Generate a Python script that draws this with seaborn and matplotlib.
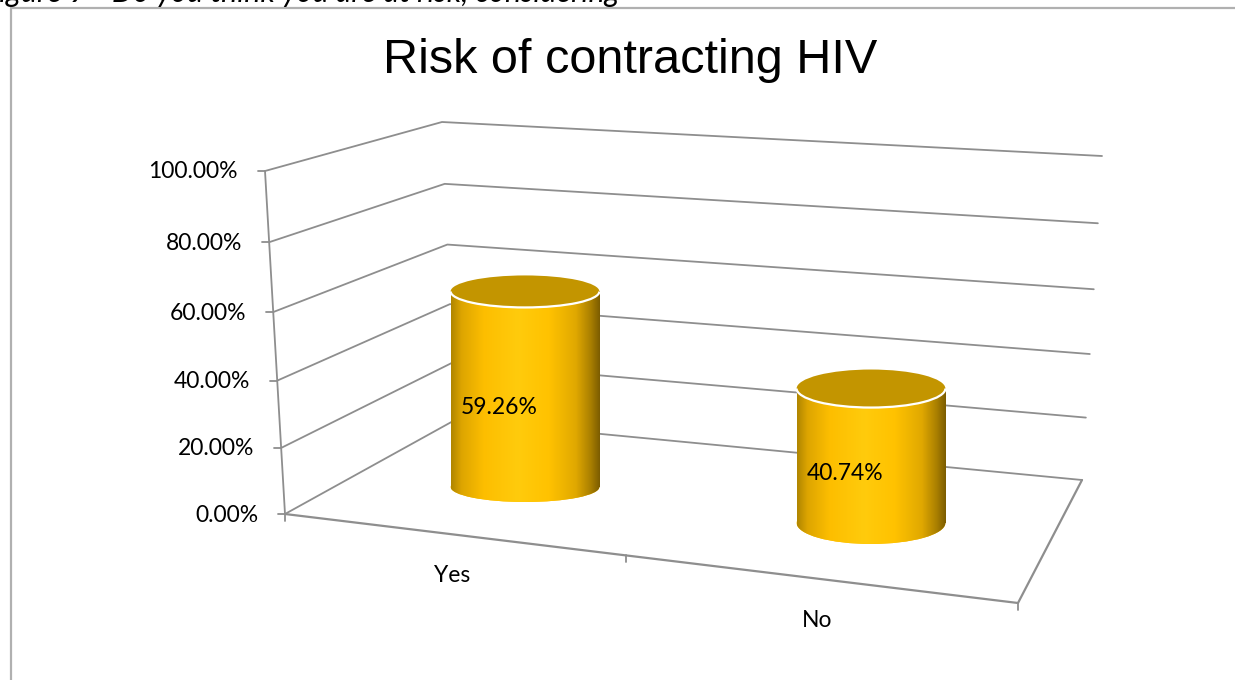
import matplotlib
matplotlib.use("Agg")
import numpy as np
import matplotlib.pyplot as plt
import seaborn as sns
from matplotlib.colors import LinearSegmentedColormap
from matplotlib.patches import Ellipse, Arc
from matplotlib.transforms import Affine2D

# ---- data -------------------------------------------------------------
categories = ["Yes", "No"]
shares = [0.5926, 0.4074]
y_ticks = [0.0, 0.2, 0.4, 0.6, 0.8, 1.0]
y_tick_labels = ["0.00%", "20.00%", "40.00%", "60.00%", "80.00%", "100.00%"]
chart_title = "Risk of contracting HIV"
caption = "Figure 9 - Do you think you are at risk, considering"

# ---- canvas -----------------------------------------------------------
W, H = 1235, 680
sns.set_theme(style="white")
plt.rcParams["font.family"] = ["Lato", "DejaVu Sans"]

fig = plt.figure(figsize=(W / 100, H / 100), dpi=100)
fig.patch.set_facecolor("white")

# frame layer, pixel coordinates with y pointing down
bg = fig.add_axes([0, 0, 1, 1], zorder=1)
bg.set_xlim(0, W)
bg.set_ylim(H, 0)
bg.axis("off")

GRID = "#8e8e8e"
LABEL_SIZE = 16.5

# corners of the perspective box (value 0 -> value 1)
FRONT_LEFT = np.array([[285.0, 514.0], [265.0, 171.0]])
BACK_LEFT = np.array([[455.0, 420.0], [442.0, 122.0]])
BACK_RIGHT = np.array([[1082.0, 480.0], [1102.0, 156.0]])
FRONT_RIGHT = np.array([1018.0, 603.0])
DEPTH_V = -0.0456   # vertical foreshortening
DEPTH_H = -0.131    # foreshortening along the category edge


def persp(t, k):
    return t * (1 + k) / (1 + k * t)


def edge_point(anchor, v):
    g = persp(v, DEPTH_V)
    return anchor[0] + g * (anchor[1] - anchor[0])


# outer chart border
bg.plot([11, 11, W + 5], [H + 5, 8, 8], color="#b0b0b0", lw=1.6, solid_joinstyle="miter")

# walls: side-wall and back-wall lines at every tick value
for v, lab in zip(y_ticks, y_tick_labels):
    f = edge_point(FRONT_LEFT, v)
    b = edge_point(BACK_LEFT, v)
    r = edge_point(BACK_RIGHT, v)
    bg.plot([f[0], b[0], r[0]], [f[1], b[1], r[1]], color=GRID, lw=1.3)
    bg.plot([f[0] - 7, f[0]], [f[1], f[1]], color=GRID, lw=1.3)
    bg.text(f[0] - 27, f[1] + 1, lab, ha="right", va="center",
            fontsize=LABEL_SIZE, color="black")

# value axis
f0, f1 = edge_point(FRONT_LEFT, 0.0), edge_point(FRONT_LEFT, 1.0)
bg.plot([f0[0], f1[0]], [f0[1], f1[1]], color=GRID, lw=1.3)

# floor front and right edges
r0 = edge_point(BACK_RIGHT, 0.0)
bg.plot([f0[0], FRONT_RIGHT[0], r0[0]], [f0[1], FRONT_RIGHT[1], r0[1]],
        color=GRID, lw=1.6)

# category ticks and labels along the front edge
n = len(categories)
for i in range(n + 1):
    h = persp(i / n, DEPTH_H)
    p = f0 + h * (FRONT_RIGHT - f0)
    bg.plot([p[0], p[0]], [p[1], p[1] + 7], color=GRID, lw=1.3)
for i, cat in enumerate(categories):
    h = persp((i + 0.5) / n, DEPTH_H)
    p = f0 + h * (FRONT_RIGHT - f0)
    bg.text(p[0] + 2, p[1] + 42, cat, ha="center", va="center",
            fontsize=LABEL_SIZE, color="black")

# titles
bg.text(630, 73, chart_title, ha="center", va="baseline", fontsize=35,
        family=["Liberation Sans", "DejaVu Sans"], color="black")
bg.text(-17, 2, caption, ha="left", va="baseline", fontsize=22,
        style="italic", color="black")

# ---- cylinders --------------------------------------------------------
ax = fig.add_axes([0, 0, 1, 1], zorder=2)
ax.patch.set_alpha(0)
sns.barplot(x=categories, y=shares, ax=ax, width=0.43, color="#FFC000",
            saturation=1, linewidth=0)

PX_PER_CAT = 346.0     # horizontal pixels per category step
PX_PER_UNIT = 330.0    # vertical pixels per 100 %
ORIGIN_X, ORIGIN_Y = 525.0, 193.0   # first bar's base, display pixels
FLOOR_SLOPE = -0.104   # floor drops towards the right

xlim = (-ORIGIN_X / PX_PER_CAT, (W - ORIGIN_X) / PX_PER_CAT)
ylim = (-ORIGIN_Y / PX_PER_UNIT, (H - ORIGIN_Y) / PX_PER_UNIT)
ax.set_xlim(*xlim)
ax.set_ylim(*ylim)

body_cmap = LinearSegmentedColormap.from_list(
    "gold_body",
    [(0.00, "#B08600"), (0.07, "#DDA500"), (0.22, "#FDBE00"),
     (0.45, "#FFCB0C"), (0.66, "#FFC200"), (0.84, "#E0A800"),
     (0.94, "#A97F00"), (1.00, "#7C5D00")])
gradient = np.linspace(0, 1, 256)[None, :]
TOP_FACE = "#C39500"

for patch in list(ax.patches):
    x0, w, v = patch.get_x(), patch.get_width(), patch.get_height()
    cx = x0 + w / 2
    cx_px = ax.transData.transform((cx, 0))[0]
    dy = FLOOR_SLOPE * (cx_px - ORIGIN_X)
    tr = ax.transData + Affine2D().translate(0, dy)
    patch.set_transform(tr)
    patch.set_zorder(2)

    # rim ellipses grow slightly as the bars come closer to the viewer
    top_half = (16 + 0.0087 * (cx_px - ORIGIN_X)) / PX_PER_UNIT
    base_half = (15 + 0.0173 * (cx_px - ORIGIN_X)) / PX_PER_UNIT

    base = Ellipse((cx, 0), w, 2 * base_half, transform=tr,
                   facecolor="#FFC000", edgecolor="none", zorder=2)
    ax.add_patch(base)

    for clip in (patch, base):
        im = ax.imshow(gradient, cmap=body_cmap, extent=(x0, x0 + w, -base_half, v),
                       aspect="auto", origin="lower", interpolation="bilinear",
                       transform=tr, zorder=3)
        im.set_clip_path(clip)

    ax.add_patch(Ellipse((cx, v), w, 2 * top_half, transform=tr,
                         facecolor=TOP_FACE, edgecolor="none", zorder=4))
    ax.add_patch(Arc((cx, v), w, 2 * top_half, theta1=180, theta2=360,
                     transform=tr, color="white", lw=1.6, zorder=5))

    ax.annotate(f"{v:.2%}", xy=(cx, v / 2), xycoords=tr, xytext=(-26, -18),
                textcoords="offset pixels", ha="center", va="center",
                fontsize=LABEL_SIZE, color="black", zorder=6)

ax.set_xlim(*xlim)
ax.set_ylim(*ylim)
ax.axis("off")

fig.savefig("out.png", dpi=100, facecolor="white")
